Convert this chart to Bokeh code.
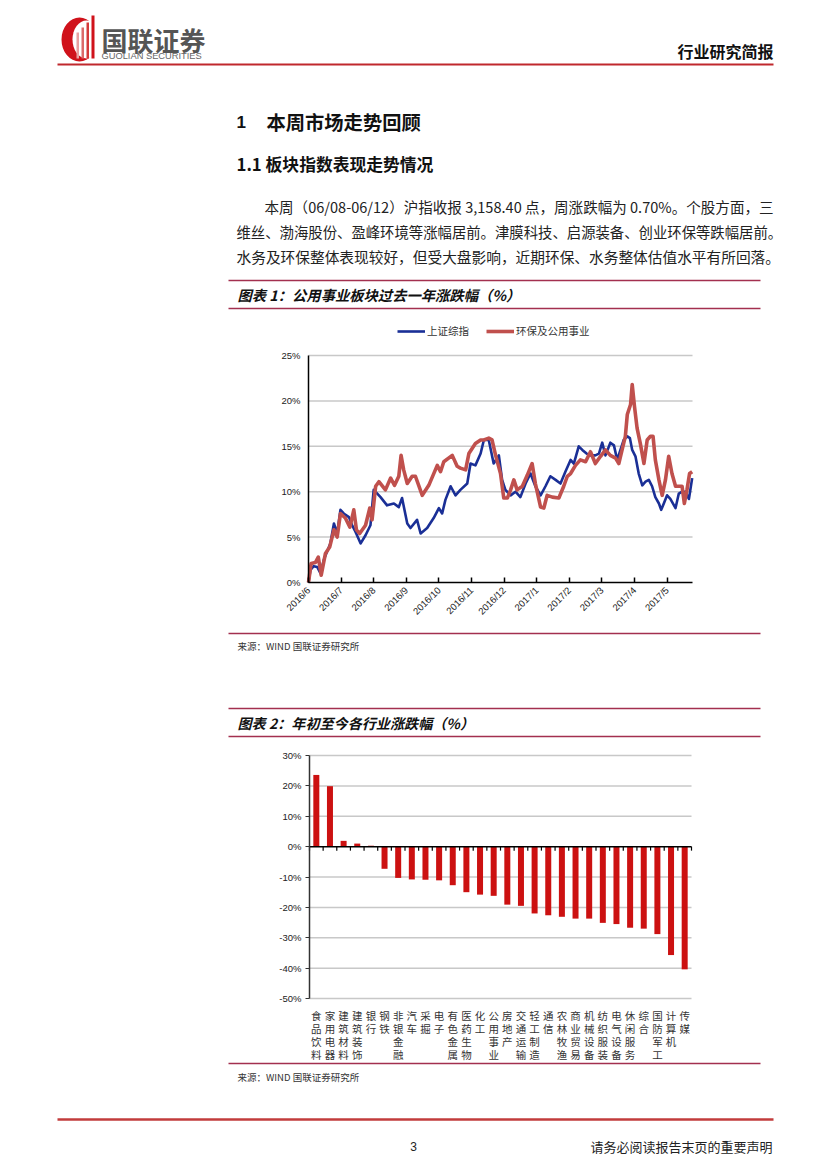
import math
from bokeh.plotting import figure
from bokeh.models import (Range1d, FixedTicker, PrintfTickFormatter, Legend, LegendItem,
                          LinearAxis, ColumnDataSource)
from bokeh.core.properties import value
from bokeh.embed import file_html
from bokeh.resources import INLINE

CJK = "Noto Sans CJK SC"
LAT = "Liberation Sans"
W, H = 827, 1169

# ---------------- data ----------------
month_labels = ["2016/6", "2016/7", "2016/8", "2016/9", "2016/10", "2016/11",
                "2016/12", "2017/1", "2017/2", "2017/3", "2017/4", "2017/5"]
month_span = 11.78  # axis length in months

# 上证综指 (months since start, cumulative %)
sh_month = [0, 0.06, 0.16, 0.27, 0.37, 0.47, 0.57, 0.67, 0.78, 0.88, 0.98, 1.08, 1.24, 1.34,
            1.44, 1.60, 1.75, 1.90, 2.00, 2.21, 2.41, 2.62, 2.77, 2.87, 3.03, 3.13, 3.33,
            3.44, 3.64, 3.84, 4.00, 4.10, 4.20, 4.36, 4.51, 4.66, 4.87, 4.97, 5.12, 5.28,
            5.38, 5.53, 5.68, 5.84, 5.94, 6.04, 6.20, 6.35, 6.50, 6.66, 6.81, 6.96, 7.12,
            7.27, 7.42, 7.58, 7.73, 7.88, 8.04, 8.14, 8.29, 8.40, 8.53, 8.65, 8.80, 8.91,
            9.01, 9.11, 9.26, 9.37, 9.47, 9.57, 9.67, 9.78, 9.86, 9.93, 10.03, 10.13, 10.24,
            10.34, 10.44, 10.54, 10.64, 10.75, 10.82, 10.90, 11.00, 11.10, 11.26, 11.36,
            11.46, 11.56, 11.67, 11.77]
sh_pct = [0, 1.4, 1.8, 1.7, 1.0, 2.5, 3.4, 4.3, 6.5, 5.4, 8.0, 7.6, 7.2, 6.3,
          5.6, 4.3, 5.2, 6.3, 10.2, 9.4, 8.5, 8.7, 8.3, 9.3, 6.5, 6.0, 6.9,
          5.4, 6.0, 7.1, 8.2, 7.6, 9.1, 10.6, 9.6, 10.2, 10.9, 13.1, 12.9, 14.2,
          15.7, 15.7, 13.1, 14.0, 11.3, 10.2, 9.6, 10.0, 9.4, 10.9, 12.0, 10.6, 9.6,
          10.6, 11.7, 11.3, 10.9, 12.2, 13.5, 13.1, 15.0, 14.6, 14.2, 14.0, 14.0, 14.2,
          15.4, 14.0, 15.4, 15.1, 13.5, 14.6, 15.7, 16.1, 15.9, 14.6, 13.9, 12.0, 10.7,
          11.1, 11.3, 10.6, 9.4, 8.7, 8.0, 8.7, 9.6, 9.2, 8.2, 9.8,
          10.0, 10.0, 9.2, 11.5]

# 环保及公用事业
ep_month = [0, 0.08, 0.21, 0.30, 0.39, 0.52, 0.65, 0.78, 0.88, 0.98, 1.13, 1.27, 1.39, 1.47,
            1.57, 1.75, 1.88, 1.95, 2.06, 2.16, 2.36, 2.52, 2.64, 2.77, 2.84, 2.92, 3.03,
            3.18, 3.28, 3.49, 3.69, 3.95, 4.05, 4.15, 4.41, 4.56, 4.66, 4.82, 4.92, 5.12,
            5.28, 5.38, 5.53, 5.63, 5.74, 5.89, 5.99, 6.10, 6.20, 6.30, 6.40, 6.56, 6.71,
            6.86, 6.96, 7.12, 7.22, 7.32, 7.48, 7.68, 7.83, 7.94, 8.04, 8.19, 8.34, 8.50,
            8.65, 8.80, 8.96, 9.11, 9.26, 9.42, 9.52, 9.62, 9.72, 9.78, 9.88, 9.93, 10.00,
            10.08, 10.18, 10.29, 10.39, 10.49, 10.57, 10.64, 10.75, 10.85, 10.95, 11.05,
            11.15, 11.26, 11.36, 11.46, 11.53, 11.61, 11.69, 11.77]
ep_pct = [0, 2.1, 2.2, 2.8, 0.8, 3.2, 3.9, 5.8, 5.0, 7.6, 7.1, 6.1, 8.0, 5.8,
          5.4, 6.3, 8.2, 6.9, 10.6, 11.1, 10.2, 11.5, 10.7, 11.7, 14.0, 12.4, 10.9,
          11.7, 11.7, 9.6, 10.7, 12.9, 12.2, 13.3, 14.0, 12.8, 12.6, 12.4, 14.2, 15.3,
          15.7, 15.7, 15.9, 15.7, 14.0, 12.0, 9.3, 9.3, 10.2, 11.3, 10.2, 10.6, 11.8,
          13.1, 10.9, 8.3, 8.2, 9.6, 9.4, 9.3, 10.6, 11.7, 12.0, 12.9, 13.5, 13.3,
          14.4, 13.1, 13.9, 14.6, 14.0, 13.7, 13.1, 14.6, 16.1, 18.5, 19.6, 21.8, 19.4,
          17.0, 15.3, 13.1, 15.7, 16.1, 16.1, 13.5, 11.3, 9.6, 11.3, 13.9,
          12.0, 10.6, 10.6, 10.6, 8.7, 10.2, 12.0, 12.2]
c1_ticks = [0, 5, 10, 15, 20, 25]

industries = ["食品饮料", "家用电器", "建筑材料", "建筑装饰", "银行", "钢铁", "非银金融",
              "汽车", "采掘", "电子", "有色金属", "医药生物", "化工", "公用事业",
              "房地产", "交通运输", "轻工制造", "通信", "农林牧渔", "商业贸易",
              "机械设备", "纺织服装", "电气设备", "休闲服务", "综合", "国防军工",
              "计算机", "传媒"]
ytd_pct = [23.6, 19.9, 1.9, 1.0, 0.3, -7.3, -10.3, -10.8, -10.9, -11.1, -12.7, -15.0,
           -15.8, -16.2, -19.1, -19.5, -22.0, -22.6, -23.1, -23.7, -23.7, -25.1, -25.5,
           -26.7, -27.0, -28.8, -35.7, -40.4]
c2_ticks = [-50, -40, -30, -20, -10, 0, 10, 20, 30]


# ---------------- page figure (1 data unit = 1 page pixel) ----------------
p = figure(width=W, height=H, x_range=Range1d(0, W), y_range=Range1d(H, 0),
           x_axis_location=None, y_axis_location=None, min_border=0,
           output_backend="svg", toolbar_location=None)
p.outline_line_color = None
p.xgrid.visible = False
p.ygrid.visible = False


def xrange_for(v0, v1, px0, px1):
    s = (px1 - px0) / (v1 - v0)
    start = v0 - px0 / s
    return Range1d(start, start + W / s)


def yrange_for(v0, v1, py0, py1):
    # v0 drawn at page y py0 (lower on page), v1 at py1
    s = (py0 - py1) / (v1 - v0)
    start = v0 - (H - py0) / s
    return Range1d(start, start + H / s)


def txt(x, y, s, size, color="#222222", font=CJK, style="normal", align="left"):
    p.text(x=[x], y=[y], text=[s], text_font=value(font), text_font_size=f"{size}px",
           text_color=color, text_font_style=style, text_align=align,
           text_baseline="middle")


def hline(x0, x1, y, color, width):
    p.segment(x0=[x0], y0=[y], x1=[x1], y1=[y], line_color=color, line_width=width)


RULE = "#a3304f"

# ---------------- header ----------------
p.ellipse(x=[79], y=[39], width=[36], height=[44], fill_color="#d0121b", line_color=None)
p.ellipse(x=[86], y=[39], width=[28], height=[38], fill_color="white", line_color=None)
p.quad(left=[76, 81, 86, 91], right=[78.5, 83.5, 88.5, 94],
       top=[32, 27, 22, 15], bottom=[58, 58, 58, 58],
       fill_color=["#e8a0a0", "#dc6a6a", "#d43a3a", "#d0121b"], line_color=None)
txt(101, 39, "国联证券", 26, color="#555555", style="bold")
txt(101, 55, "GUOLIAN SECURITIES", 9.3, color="#666666", font=LAT)
txt(773, 50, "行业研究简报", 16, color="#111111", style="bold", align="right")
hline(57, 773, 64, "#c0282d", 2)

# ---------------- headings & paragraph ----------------
txt(236, 121, "1", 17, color="#111111", font=LAT, style="bold")
txt(266, 121, "本周市场走势回顾", 19.3, color="#111111", style="bold")
txt(236, 163, "1.1 板块指数表现走势情况", 16.8, color="#111111", style="bold")

para = ["本周（06/08-06/12）沪指收报 3,158.40 点，周涨跌幅为 0.70%。个股方面，三",
        "维丝、渤海股份、盈峰环境等涨幅居前。津膜科技、启源装备、创业环保等跌幅居前。",
        "水务及环保整体表现较好，但受大盘影响，近期环保、水务整体估值水平有所回落。"]
txt(264, 206, para[0], 14.55)
txt(236, 231, para[1], 14.36)
txt(236, 256, para[2], 14.7)

# ---------------- chart 1 ----------------
hline(228, 760, 280, RULE, 1.5)
hline(228, 760, 308, RULE, 1.5)
txt(237, 294, "图表 1：公用事业板块过去一年涨跌幅（%）", 14.3, color="#111111",
    style="bold italic")

p.extra_x_ranges["c1x"] = xrange_for(0, month_span, 308, 692)
p.extra_y_ranges["c1y"] = yrange_for(0, 25, 582, 355)
R1 = dict(x_range_name="c1x", y_range_name="c1y")

grid1 = [t for t in c1_ticks if t > 0]
p.segment(x0=[0] * len(grid1), x1=[month_span] * len(grid1), y0=grid1, y1=grid1,
          line_color="#c8c8c8", line_width=1.5, **R1)

r_sh = p.line(sh_month, sh_pct, line_color="#1a2f96", line_width=2.6, line_join="round", **R1)
r_ep = p.line(ep_month, ep_pct, line_color="#c0504d", line_width=3.6, line_join="round", **R1)

y1ax = LinearAxis(fixed_location=0, bounds=(0, 25), ticker=FixedTicker(ticks=c1_ticks),
                  formatter=PrintfTickFormatter(format="%d%%"), axis_line_color="black",
                  axis_line_width=1.5, major_tick_in=0, major_tick_out=0,
                  minor_tick_line_color=None, major_label_text_font=LAT,
                  major_label_text_font_size="9.5px", major_label_text_color="#222222",
                  major_label_standoff=8, **R1)
p.add_layout(y1ax, "left")

x1ax = LinearAxis(fixed_location=0, bounds=(0, month_span),
                  ticker=FixedTicker(ticks=list(range(len(month_labels)))),
                  major_label_overrides={i: lab for i, lab in enumerate(month_labels)},
                  major_label_orientation=math.pi / 4, axis_line_color="black",
                  axis_line_width=1.5, major_tick_in=5, major_tick_out=0,
                  major_tick_line_width=1.5, minor_tick_line_color=None,
                  major_label_text_font=LAT, major_label_text_font_size="9.5px",
                  major_label_text_color="#222222", major_label_standoff=6, **R1)
p.add_layout(x1ax, "below")

legend = Legend(items=[LegendItem(label="上证综指", renderers=[r_sh]),
                       LegendItem(label="环保及公用事业", renderers=[r_ep])],
                orientation="horizontal", location=(397, H - 338), padding=0, margin=0,
                spacing=17, glyph_width=28, glyph_height=14, label_standoff=2,
                label_text_font=CJK, label_text_font_size="10.5px",
                label_text_color="#333333", border_line_color=None,
                background_fill_alpha=0)
p.add_layout(legend)

hline(228, 760, 633, RULE, 1.5)
txt(237, 645, "来源：WIND 国联证券研究所", 9.5, color="#333333")

# ---------------- chart 2 ----------------
hline(228, 760, 708, RULE, 1.5)
hline(228, 760, 736, RULE, 1.5)
txt(237, 722, "图表 2：年初至今各行业涨跌幅（%）", 14.1, color="#111111", style="bold italic")

n = len(industries)
p.extra_x_ranges["c2x"] = xrange_for(0, n, 309, 691)
p.extra_y_ranges["c2y"] = yrange_for(-50, 30, 998, 755)
R2 = dict(x_range_name="c2x", y_range_name="c2y")
px_per_pct = (998 - 755) / 80.0

grid2 = [t for t in c2_ticks if t != 0]
p.segment(x0=[0] * len(grid2), x1=[n] * len(grid2), y0=grid2, y1=grid2,
          line_color="#c8c8c8", line_width=1.5, **R2)

centers = [i + 0.5 for i in range(n)]
src2 = ColumnDataSource(dict(x=centers, top=ytd_pct, name=industries))
p.vbar(x="x", top="top", bottom=0, width=0.44, source=src2, fill_color="#cc1111",
       line_color=None, **R2)

# zero line with category-boundary ticks
bounds2 = list(range(n + 1))
p.segment(x0=[0], x1=[n], y0=[0], y1=[0], line_color="black", line_width=1.5, **R2)
p.segment(x0=bounds2, x1=bounds2, y0=[0] * (n + 1), y1=[-4 / px_per_pct] * (n + 1),
          line_color="black", line_width=1.2, **R2)

y2ax = LinearAxis(fixed_location=0, bounds=(-50, 30), ticker=FixedTicker(ticks=c2_ticks),
                  formatter=PrintfTickFormatter(format="%d%%"), axis_line_color="#333333",
                  axis_line_width=1.5, major_tick_in=0, major_tick_out=4,
                  major_tick_line_color="#333333", minor_tick_line_color=None,
                  major_label_text_font=LAT, major_label_text_font_size="9.5px",
                  major_label_text_color="#222222", major_label_standoff=4, **R2)
p.add_layout(y2ax, "left")

lab_axis = LinearAxis(fixed_location=-50, bounds=(0, n), ticker=FixedTicker(ticks=centers),
                      major_label_overrides={c: "\n".join(name) for c, name in zip(centers, industries)},
                      axis_line_color=None, major_tick_line_color=None,
                      minor_tick_line_color=None, major_label_standoff=3,
                      major_label_text_font=CJK, major_label_text_font_size="10.5px",
                      major_label_text_line_height=0.88,
                      major_label_text_color="#333333", **R2)
p.add_layout(lab_axis, "below")

hline(228, 760, 1063, RULE, 1.5)
txt(237, 1076, "来源：WIND 国联证券研究所", 9.5, color="#333333")

# ---------------- footer ----------------
hline(57, 773, 1119, "#c23c3c", 2.5)
txt(413, 1146, "3", 12, color="#222222", font=LAT, align="center")
txt(772, 1146, "请务必阅读报告末页的重要声明", 13, color="#222222", align="right")

open("out.html", "w").write(file_html(p, INLINE))
